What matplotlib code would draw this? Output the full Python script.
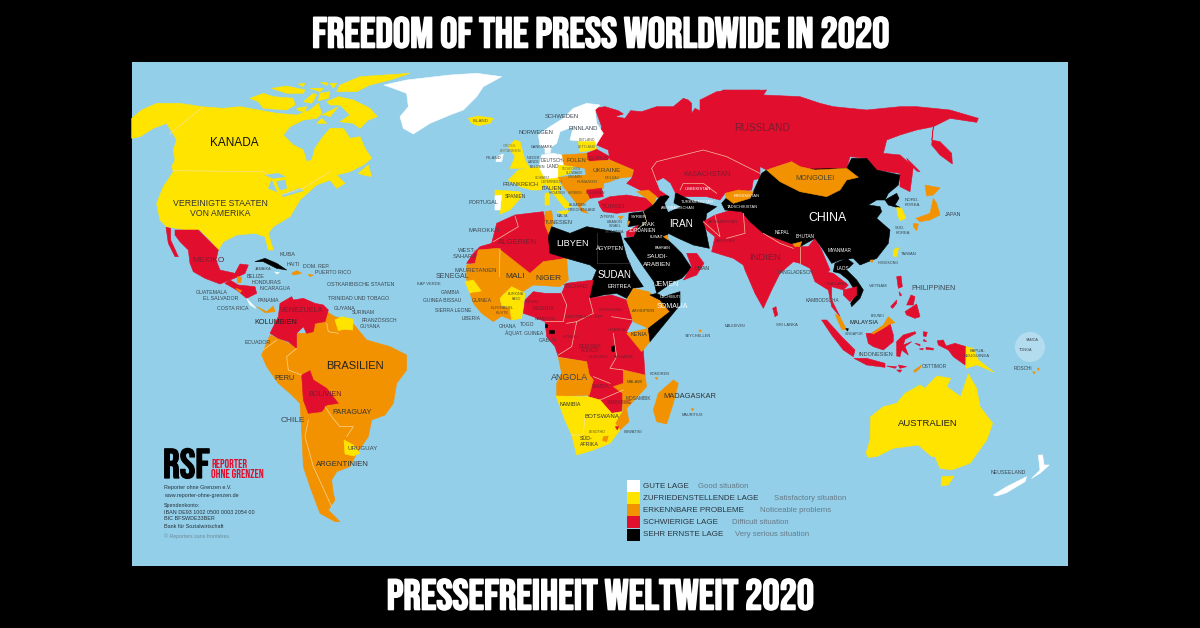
import matplotlib
matplotlib.use('Agg')
from matplotlib import pyplot as plt
from matplotlib import patheffects as pe
from matplotlib.patches import Rectangle, Circle

OCEAN = '#93cfe8'
WHITE = '#ffffff'
YELLOW = '#ffe400'
ORANGE = '#f39200'
RED = '#e20e2e'
BLACK = '#000000'
BORDER = '#f7e3b0'
HEAVY = ['Bebas Neue', 'Anton', 'Liberation Sans']

TITLE_TOP = 'FREEDOM OF THE PRESS WORLDWIDE IN 2020'
TITLE_BOTTOM = 'PRESSEFREIHEIT WELTWEIT 2020'

# outlines read off the zoomed crops, each list is in the coords of its crop
# americas crop (130, 60)
north_america = [(5,175),(35,150),(80,130),(150,130),(215,140),(280,145),(330,140),(385,150),(440,160),(500,165),(540,150),(565,130),(575,160),(560,175),(520,180),(480,200),(460,225),(490,255),(520,270),(530,305),(545,300),(555,265),(575,235),(600,205),(640,205),(660,235),(690,230),(705,265),(725,295),(700,315),(660,335),(620,345),(610,335),(645,370),(620,385),(600,360),(560,375),(510,420),(480,470),(430,500),(415,520),(430,570),(415,570),(405,530),(375,520),(320,525),(280,545),(265,570),(240,540),(210,510),(170,510),(110,500),(90,480),(80,430),(100,380),(130,335),(125,320),(135,300),(130,270),(140,240),(110,190),(70,205),(30,230),(5,235)]
arctic = [
    [(360,115),(400,100),(430,110),(490,115),(495,135),(470,150),(400,145),(385,125)],
    [(425,85),(470,78),(525,90),(520,100),(470,100)],
    [(520,125),(550,100),(560,105),(545,130)],
    [(570,100),(600,95),(595,115),(565,122)],
    [(590,125),(625,110),(670,120),(720,145),(742,170),(715,180),(690,205),(670,190),(630,185),(660,165),(630,135),(600,135)],
    [(630,75),(690,50),(840,40),(780,60),(720,75),(680,95),(620,95)],
    [(570,65),(590,65),(590,75)],
    [(505,72),(525,70),(520,80)],
    [(600,70),(620,70),(610,85)],
    [(540,85),(580,85),(570,95)],
    [(500,145),(530,140),(525,155),(505,152)],
    [(575,165),(625,140),(600,170),(585,165)],
    [(560,190),(575,175),(590,190)],
    [(685,340),(715,315),(725,350),(700,345)],
]
lakes = [
    [(405,345),(445,340),(465,350),(430,355)],
    [(415,385),(425,360),(440,395)],
    [(440,365),(465,360),(470,385),(450,390)],
    [(455,405),(510,385),(520,392),(460,410)],
]
greenland = [(762,75),(830,60),(960,45),(1040,40),(1115,50),(1060,80),(1040,110),(1020,130),(1000,150),(960,165),(900,190),(850,222),(820,205),(810,170),(835,140),(830,100),(790,85)]
iceland = [(1015,175),(1045,168),(1090,175),(1080,190),(1045,197),(1025,190)]
mexico = [(135,510),(170,510),(205,510),(230,535),(265,570),(258,600),(270,630),(315,640),(330,612),(355,615),(345,640),(325,650),(300,660),(270,672),(225,655),(190,635),(180,610),(175,570),(150,545),(135,525)]
baja = [(108,502),(122,505),(122,540),(145,590),(135,590),(115,550)]
honduras = [(300,660),(325,675),(375,680),(380,700),(350,715),(320,690),(285,670)]
belize = [(322,650),(335,652),(332,668),(323,668)]
salvador = [(318,685),(335,692),(330,698)]
costa_rica = [(350,715),(378,745),(360,735)]
panama = [(380,740),(410,755),(430,738),(435,755),(405,758)]
cuba = [(375,605),(405,595),(440,610),(470,630),(440,625),(400,605)]
jamaica = [(435,636),(448,638),(440,642)]
haiti = [(485,640),(500,632),(515,640),(490,645)]
puerto_rico = [(535,643),(550,645),(540,650)]

# south america crop (260, 280)
south_america = [(5,225),(30,165),(110,200),(110,160),(135,160),(165,130),(195,125),(200,95),(225,110),(275,125),(295,150),(320,180),(390,200),(440,225),(440,270),(410,310),(400,370),(375,405),(335,420),(325,470),(290,520),(270,560),(230,575),(215,600),(220,640),(225,660),(205,690),(240,725),(225,725),(180,700),(150,620),(130,560),(125,450),(120,370),(90,340),(55,310),(20,260)]
venezuela = [(30,160),(55,110),(60,70),(95,50),(100,60),(130,55),(165,70),(190,75),(205,90),(195,125),(165,130),(160,155),(140,160),(130,140),(110,160),(110,205),(85,185),(55,175)]
suriname = [(225,120),(245,110),(280,118),(278,150),(250,148),(235,152)]
bolivia = [(125,285),(150,272),(160,300),(200,325),(235,370),(200,375),(185,395),(145,400),(130,360)]
uruguay = [(252,480),(280,495),(300,520),(280,528),(255,522)]

# west russia + kazakhstan crop (560, 90)
russia_west = [(105,55),(135,50),(175,62),(190,72),(165,80),(195,85),(212,62),(245,65),(290,50),(340,50),(370,25),(385,30),(395,40),(395,70),(405,55),(425,65),(430,30),(470,10),(490,0),(600,0),(600,265),(580,270),(575,300),(495,310),(480,330),(440,320),(350,320),(310,325),(285,320),(240,300),(210,285),(200,280),(215,265),(222,240),(150,210),(145,180),(110,165),(125,110)]
caspian = [(290,275),(310,265),(330,280),(345,310),(340,340),(360,350),(325,365),(315,340),(330,320),(300,300)]
borders_kazakhstan = [[(275,235),(290,215),(430,180),(500,200),(600,250)],[(360,300),(370,280),(430,280),(470,310)],[(275,235),(290,275)]]

# europe / middle east crop (430, 90)
nordic = [(325,135),(360,110),(400,85),(430,55),(470,40),(510,45),(495,60),(500,100),(520,130),(495,170),(470,155),(420,150),(430,110),(390,125),(380,160),(350,180),(330,165)]
baltic = [(445,155),(495,155),(500,180),(450,185)]
belarus = [(470,190),(500,178),(540,200),(530,215),(475,215)]
poland = [(395,195),(470,190),(478,225),(465,235),(400,225)]
ukraine = [(470,215),(540,210),(610,240),(605,260),(565,265),(540,275),(520,280),(470,260),(465,240)]
germany = [(335,195),(370,190),(395,195),(400,225),(385,240),(385,270),(340,270),(325,240)]
denmark = [(345,170),(365,168),(360,190),(345,190)]
france = [(265,240),(325,230),(345,270),(335,300),(305,300),(270,290),(235,270)]
britain = [(235,170),(255,150),(270,155),(285,210),(300,235),(240,235),(255,200)]
ireland = [(200,200),(220,192),(215,215),(198,215)]
spain = [(195,300),(270,305),(275,320),(240,360),(210,372),(215,315),(195,318)]
portugal = [(195,318),(215,315),(210,360),(195,360)]
italy = [(350,285),(395,285),(385,305),(425,350),(405,355),(365,305)]
sicily = [(380,365),(420,360),(405,375)]
sardinia = [(345,310),(360,308),(358,345),(345,345)]
czech_hungary = [(385,225),(430,230),(420,250),(385,260)]
austria = [(335,270),(395,262),(385,290),(345,285)]
balkans = [(385,262),(470,255),(520,280),(520,295),(470,300),(480,325),(450,350),(475,370),(455,365),(440,340),(400,290)]
bulgaria = [(470,300),(515,295),(520,320),(480,325)]
turkey = [(505,335),(540,320),(590,315),(650,325),(670,345),(660,360),(600,365),(560,370),(520,365),(510,350)]
georgia = [(620,305),(655,300),(680,320),(670,345),(650,325)]
cyprus = [(565,380),(580,378),(572,388)]
lebanon = [(592,392),(600,395),(592,410)]
israel = [(590,425),(625,405),(610,440),(590,440)]
kuwait = [(700,440),(712,435),(715,450)]
mideast = [(597,370),(640,365),(670,345),(690,320),(740,310),(780,330),(860,350),(830,370),(825,410),(838,475),(790,465),(745,445),(715,430),(708,445),(730,465),(755,490),(785,535),(755,565),(730,575),(680,610),(672,575),(640,530),(600,470),(582,445),(610,440),(625,405),(595,410)]
oman = [(770,490),(800,490),(822,520),(800,555),(760,570),(785,530)]
maghreb = [(110,520),(130,490),(150,470),(185,460),(200,400),(255,375),(340,365),(350,410),(365,440),(360,490),(410,505),(340,515),(300,550),(260,530),(205,475),(145,480),(135,520)]
tunisia = [(345,365),(365,362),(370,400),(355,430),(345,405)]
sahel = [(110,525),(135,520),(145,480),(205,475),(300,550),(340,515),(410,505),(415,570),(390,590),(310,585),(270,610),(265,600),(220,610),(210,630),(160,620),(110,570)]
north_east_africa = [(365,410),(420,430),(470,410),(570,428),(575,445),(590,500),(610,545),(640,590),(610,595),(590,625),(560,610),(520,615),(480,625),(475,600),(500,540),(480,525),(410,505),(360,490),(355,440)]

# africa crop (430, 280)
central_africa = [(280,100),(285,60),(310,35),(345,40),(395,40),(408,10),(490,0),(478,55),(545,45),(590,60),(608,120),(590,155),(640,210),(645,285),(580,270),(580,330),(575,395),(545,400),(510,360),(475,350),(480,320),(490,300),(475,280),(470,245),(385,230),(375,200),(350,170),(345,125),(310,110)]
senegal = [(105,5),(130,0),(155,35),(120,40)]
guinea_coast = [(120,40),(155,35),(210,60),(215,80),(240,85),(245,120),(215,108),(190,125),(155,100),(130,70)]
burkina_ghana = [(210,55),(245,20),(285,40),(275,115),(245,120),(240,85),(215,75)]
angola = [(385,232),(470,245),(478,285),(490,300),(478,345),(380,350),(380,310),(395,280)]
mozambique = [(580,270),(645,285),(650,320),(590,385),(597,425),(570,450),(555,430),(578,395),(578,340),(550,320),(580,310)]
kenya = [(590,160),(655,145),(660,185),(635,215)]
ethiopia = [(590,60),(610,25),(655,35),(690,60),(720,95),(655,145),(610,125)]
somalia = [(660,45),(680,40),(700,50),(750,35),(750,75),(660,185),(655,145),(720,95),(690,60)]
southern_africa = [(378,348),(475,350),(510,360),(545,400),(575,395),(555,430),(570,450),(540,490),(490,510),(440,525),(425,465),(405,420)]
lesotho = [(520,470),(535,468),(530,485),(518,482)]
eswatini = [(556,440),(566,440),(562,450)]
madagascar = [(730,300),(745,310),(730,370),(710,432),(680,425),(670,390),(685,340)]
rwanda = [(545,200),(555,197),(553,215),(545,213)]
eq_guinea = [(357,150),(372,150),(372,160),(357,160)]
sao_tome = [(346,133),(352,133),(352,140),(346,140)]
comoros = [(675,292),(683,292),(681,299)]
mauritius = [(783,386),(791,386),(788,393)]
seychelles = [(806,150),(814,150),(811,157)]

# asia crop (700, 90)
russia = [(0,30),(50,5),(200,0),(190,15),(300,20),(360,40),(400,50),(500,60),(600,50),(650,50),(750,60),(835,85),(830,97),(750,85),(700,110),(650,120),(600,135),(560,150),(550,190),(600,195),(640,230),(630,305),(600,290),(600,250),(530,240),(500,205),(450,200),(440,235),(345,240),(300,230),(275,215),(200,240),(100,190),(40,180),(0,190)]
kamchatka = [(700,110),(695,150),(720,155),(755,190),(757,222),(720,195),(695,165)]
sakhalin = [(620,205),(660,245),(650,243),(625,215)]
china = [(440,235),(455,205),(500,205),(530,240),(600,255),(595,285),(565,310),(555,330),(530,330),(505,345),(540,350),(545,365),(530,385),(570,420),(565,460),(530,505),(480,525),(460,505),(420,510),(395,520),(370,480),(345,445),(300,470),(230,445),(190,430),(150,395),(125,365),(75,360),(65,340),(78,325),(150,325),(160,305),(185,250),(200,240)]
mongolia = [(200,240),(275,215),(300,230),(345,240),(440,235),(475,262),(440,270),(420,300),(380,320),(300,305),(240,275)]
kyrgyzstan = [(75,310),(115,300),(160,305),(150,325),(100,340),(80,325)]
south_asia = [(10,395),(45,375),(95,360),(125,365),(150,395),(190,430),(230,445),(300,470),(325,470),(345,445),(365,480),(390,540),(380,550),(385,600),(345,575),(330,535),(300,520),(280,515),(240,550),(215,600),(190,655),(165,610),(135,540),(130,525),(100,505),(35,485),(45,440),(20,420)]
bhutan = [(278,462),(305,455),(300,470),(285,470)]
sri_lanka = [(218,655),(228,650),(233,675),(225,680)]
indochina = [(405,520),(440,505),(460,520),(440,540),(470,570),(490,600),(480,625),(455,650),(452,640),(470,610),(445,570),(420,550),(400,545)]
thailand = [(375,545),(400,550),(445,585),(430,600),(395,590),(395,630),(420,680),(395,650),(385,600)]
cambodia = [(430,600),(470,590),(470,615),(450,635),(430,615)]
peninsula = [(405,672),(420,680),(440,720),(425,718)]
singapore = [(437,716),(445,716),(443,723)]
hongkong = [(510,510),(520,510),(516,518)]
north_korea = [(555,330),(590,310),(597,325),(585,345),(600,352),(590,352),(565,345)]
south_korea = [(590,352),(605,355),(618,385),(600,392),(593,375)]
honshu = [(648,385),(690,370),(700,325),(710,340),(720,375),(690,390),(660,395)]
hokkaido = [(675,285),(700,290),(720,293),(700,315),(680,318)]
kyushu = [(640,400),(655,402),(650,422),(640,410)]
taiwan = [(582,478),(596,473),(590,500),(580,498)]
philippines = [
    [(590,560),(603,558),(607,590),(595,595)],
    [(597,605),(605,615),(600,618)],
    [(633,615),(645,620),(640,645),(620,645)],
    [(572,650),(590,630),(590,640),(578,655)],
    [(615,665),(650,642),(660,680),(645,685),(620,675)],
]
sumatra = [(365,690),(380,690),(425,740),(465,780),(460,800),(430,780),(395,735)]
java = [(462,805),(500,805),(555,820),(555,832),(500,825)]
sunda = [[(560,828),(590,830),(585,835)],[(595,825),(620,830),(600,835)],[(590,840),(605,840),(600,847)]]
east_timor = [(640,843),(665,825),(660,835),(645,847)]

# oceania crop (840, 300)
kalimantan = [(78,100),(95,100),(130,78),(150,70),(160,105),(160,125),(130,150),(100,140),(85,130)]
sabah = [(95,100),(130,75),(145,50),(165,68),(150,72),(130,85),(100,102)]
sulawesi = [(170,125),(190,105),(225,95),(228,100),(195,118),(190,135),(215,125),(195,140),(205,165),(185,150),(180,170),(170,168)]
moluccas = [[(250,95),(262,97),(258,110),(250,108)],[(252,118),(260,125),(250,123)],[(225,130),(240,133),(240,138)],[(238,147),(250,145),(248,150)],[(258,142),(280,145),(280,150),(258,148)]]
papua = [(292,122),(310,120),(318,138),(345,130),(378,140),(375,195),(340,170),(325,150),(295,135)]
png = [(378,140),(400,145),(415,180),(462,217),(435,205),(410,195),(378,205)]
australia = [(78,460),(90,420),(92,350),(130,320),(170,310),(195,280),(240,255),(255,265),(290,228),(332,235),(320,260),(362,290),(385,222),(410,265),(420,320),(458,370),(440,420),(390,490),(335,510),(300,505),(285,470),(275,470),(235,435),(160,445),(110,470),(85,472)]
tasmania = [(305,530),(342,528),(325,555),(303,558)]
nz_south = [(460,585),(500,560),(560,530),(555,545),(500,578),(470,588)]
nz_north = [(575,535),(600,510),(595,465),(608,465),(612,495),(628,495),(600,520)]
fiji = [[(578,215),(586,216),(582,222)],[(592,204),(598,205),(595,212)]]

# pale country borders
borders_america = [[(218,142),(118,222)],[(130,332),(400,335),(415,345)],[(455,405),(520,385),(600,335)]]
borders_south = [[(145,420),(135,470),(160,560),(215,680)],[(195,380),(215,410),(240,440),(280,440),(260,470)],[(110,205),(80,230),(85,270),(125,285)],[(200,130),(205,155),(235,160)],[(10,210),(50,180)]]
borders_europe = [[(255,378),(265,410),(190,455)],[(210,475),(208,560)],[(640,365),(650,395),(620,420)]]
borders_black = [[(500,430),(500,520)],[(600,520),(500,520)]]
borders_africa = [[(395,40),(410,75),(400,125),(345,125)],[(478,55),(490,100),(440,125),(410,130)],[(440,125),(425,200),(385,225)],[(545,110),(608,120)],[(550,160),(560,230),(540,265),(580,270)],[(490,290),(540,310)],[(510,360),(580,330)],[(465,410),(460,465),(425,465)]]
borders_asia = [[(10,395),(60,440),(45,375)],[(190,430),(240,460),(280,475)],[(300,520),(300,470)],[(130,370),(135,430),(80,445)]]

# legend
legend_colors = [WHITE, YELLOW, ORANGE, RED, BLACK]
legend_de = ['GUTE LAGE', 'ZUFRIEDENSTELLENDE LAGE', 'ERKENNBARE PROBLEME', 'SCHWIERIGE LAGE', 'SEHR ERNSTE LAGE']
legend_en = ['Good situation', 'Satisfactory situation', 'Noticeable problems', 'Difficult situation', 'Very serious situation']
legend_en_x = [698, 774, 760, 732, 735]
legend_y = [486, 498, 510, 522, 535]

# logo block text
imprint = [('Reporter ohne Grenzen e.V.', 488), ('www.reporter-ohne-grenzen.de', 495), ('Spendenkonto:', 505),
           ('IBAN DE93 1002 0500 0003 2054 00', 512), ('BIC BFSWDE33BER', 519), ('Bank für Sozialwirtschaft', 526)]

# (text, x, y, size, colour)
DARK = '#3c4650'
RD = '#7a1d30'
labels = [
    ('KANADA',234,143,8.5,'#111111'),('VEREINIGTE STAATEN',220,204,6.3,'#333333'),('VON AMERIKA',220,213,6.3,'#333333'),
    ('MEXIKO',209,260,6,RD),('KUBA',288,255,4.2,DARK),('HAITI',293,264,3.8,DARK),('JAMAIKA',263,269,2.8,DARK),
    ('DOM. REP.',316,267,3.8,DARK),('PUERTO RICO',333,273,3.8,DARK),('OSTKARIBISCHE STAATEN',361,285,3.8,DARK),
    ('BELIZE',256,277,3.8,DARK),('HONDURAS',267,283,3.8,DARK),('NICARAGUA',275,289,3.8,DARK),('GUATEMALA',212,292,3.8,DARK),
    ('EL SALVADOR',221,299,3.8,DARK),('COSTA RICA',233,308,3.8,DARK),('PANAMA',268,300,3.8,DARK),
    ('TRINIDAD UND TOBAGO',359,299,3.8,DARK),('VENEZUELA',302,310,5.2,RD),('GUYANA',345,308,3.8,DARK),('SURINAM',363,313,3.6,DARK),
    ('FRANZÖSISCH',379,321,3.6,DARK),('GUYANA',370,326,3.6,DARK),('KOLUMBIEN',276,323,5.2,'#222222'),('ECUADOR',258,342,3.8,DARK),
    ('BRASILIEN',355,366,8,'#222222'),('PERU',284,379,5.2,'#333333'),('BOLIVIEN',325,395,5.2,RD),('PARAGUAY',352,413,5.2,'#333333'),
    ('CHILE',293,420,6,DARK),('URUGUAY',363,449,4.4,DARK),('ARGENTINIEN',342,464,5.6,'#333333'),
    ('MAROKKO',484,230,4.4,DARK),('WEST-',467,250,4.2,DARK),('SAHARA',465,256,4.2,DARK),('MAURETANIEN',476,270,4.2,DARK),
    ('SENEGAL',452,277,5,DARK),('KAP VERDE',429,284,3,DARK),('GAMBIA',450,292,3.6,DARK),('GUINEA BISSAU',442,300,3.6,DARK),
    ('GUINEA',482,300,3.8,'#444444'),('SIERRA LEONE',453,311,3.6,DARK),('LIBERIA',471,318,3.6,DARK),('MALI',515,277,6,'#333333'),
    ('ALGERIEN',517,243,5.6,RD),('ISLAND',481,121,3.2,'#555533'),('IRLAND',494,158,3.1,DARK),('GROSS-',510,146,2.6,'#777755'),('BRITANNIEN',510,151,2.6,'#777755'),
    ('SCHWEDEN',562,117,4.2,DARK),('FINNLAND',583,128,4.2,DARK),('NORWEGEN',536,132,4.2,DARK),('ESTLAND',587,140,2.6,'#666644'),
    ('LETTLAND',587,147,2.6,'#666644'),('DÄNEMARK',542,147,2.8,DARK),('POLEN',576,161,4.2,'#444433'),('BELARUS',598,158,3.4,RD),
    ('DEUTSCH-',553,161,3.3,'#444444'),('LAND',553,166,3.3,'#444444'),('NIEDER-',534,158,2.6,DARK),('LANDE',534,162,2.6,DARK),('BELGIEN',537,167,2.6,DARK),
    ('UKRAINE',607,170,4.6,'#444433'),('FRANKREICH',521,185,4,'#444433'),('SPANIEN',515,196,3.6,'#444433'),('PORTUGAL',483,203,4,DARK),
    ('ITALIEN',552,189,4,'#333333'),('RUMÄNIEN',587,182,2.8,'#555533'),('MOLDAU',612,178,2.6,'#555533'),('TÜRKEI',614,206,4.6,RD),
    ('TSCHECHIEN',572,169,2.2,'#666644'),('SLOWAKEI',575,173,2.4,'#555533'),('UNGARN',575,177,2.4,'#555533'),('SCHWEIZ',542,178,2.4,'#555533'),('ÖSTERREICH',552,182,2.4,'#555533'),
    ('BULGARIEN',595,193,2.4,RD),('SERBIEN',575,193,2.4,'#555533'),('KROATIEN',557,193,2.4,'#555533'),('ALBANIEN',577,205,2.4,DARK),
    ('TUNESIEN',559,222,4,DARK),('GRIECHENLAND',582,210,2.6,DARK),('MALTA',562,216,2.6,DARK),('ZYPERN',607,217,2.6,DARK),
    ('LIBANON',615,222,2.6,DARK),('ISRAEL',615,226,2.6,DARK),('PALÄSTINA',614,232,2.6,DARK),
    ('SYRIEN',639,217,3.2,WHITE),('IRAK',648,225,4.2,WHITE),('JORDANIEN',643,231,3.4,WHITE),('KUWAIT',657,237,2.6,WHITE),('IRAN',681,224,7.2,WHITE),
    ('LIBYEN',573,244,6.6,WHITE),('ÄGYPTEN',610,248,4.2,WHITE),('SAUDI-',657,257,4.6,WHITE),('ARABIEN',657,264,4.6,WHITE),
    ('SUDAN',615,275,7,WHITE),('ERITREA',619,286,4,WHITE),('JEMEN',667,284,5,WHITE),('OMAN',702,268,3.6,'#333333'),('BAHRAIN',663,248,2.6,WHITE),
    ('DSCHIBUTI',670,297,2.8,WHITE),('SOMALIA',672,306,5,WHITE),('NIGER',548,278,6,'#333333'),('TSCHAD',575,287,4.4,RD),
    ('TURKMENISTAN',697,202,3,WHITE),('ASERBAIDSCHAN',678,208,2.8,WHITE),('USBEKISTAN',698,189,3,WHITE),('KASACHSTAN',707,175,5,RD),
    ('KIRGISISTAN',747,196,3,WHITE),('TADSCHIKISTAN',742,207,2.8,WHITE),('AFGHANISTAN',723,222,3.2,RD),('PAKISTAN',725,241,3.2,RD),
    ('RUSSLAND',762,128,7.4,RD),('MONGOLEI',815,179,5.2,'#444433'),('CHINA',827,218,8.8,WHITE),('NEPAL',782,233,3.4,WHITE),('BHUTAN',805,236,3.4,WHITE),
    ('INDIEN',765,257,6.8,RD),('MYANMAR',840,251,3.4,WHITE),('NORD-',912,200,3.2,DARK),('KOREA',912,205,3.2,DARK),('SÜD-',900,228,3,DARK),('KOREA',903,233,3,DARK),
    ('JAPAN',953,214,3.8,DARK),('TAIWAN',909,254,3,DARK),('HONGKONG',888,263,2.6,DARK),('BANGLADESCH',795,273,3.4,DARK),('LAOS',843,269,3.4,WHITE),
    ('VIETNAM',878,286,3,DARK),('THAILAND',837,284,3.2,RD),('PHILIPPINEN',934,289,5,DARK),('KAMBODSCHA',822,300,3.4,DARK),('SRI LANKA',787,325,3,DARK),
    ('MALEDIVEN',735,326,2.6,DARK),('SEYCHELLEN',698,336,2.8,DARK),('MALAYSIA',864,322,4.2,'#222222'),('BRUNEI',878,316,2.6,DARK),('SINGAPUR',854,334,2.6,DARK),
    ('INDONESIEN',876,354,4,DARK),('OSTTIMOR',934,366,3.4,DARK),('PAPUA-',978,351,3.2,'#444444'),('NEUGUINEA',977,356,3.2,DARK),
    ('SAMOA',1032,340,2.6,DARK),('TONGA',1026,350,2.8,DARK),('FIDSCHI',1023,369,3.4,DARK),('NEUSEELAND',1008,472,3.8,DARK),('AUSTRALIEN',928,423,6.8,'#222222'),
    ('GHANA',508,326,3.6,DARK),('TOGO',527,324,3.6,DARK),('ÄQUAT. GUINEA',524,333,3.6,DARK),('GABUN',548,341,3.8,DARK),('BURKINA',516,294,2.6,'#555533'),('FASO',516,299,2.6,'#555533'),
    ('ELFENBEIN-',502,308,2.8,'#664422'),('KÜSTE',502,313,2.8,'#664422'),('NIGERIA',543,308,3.8,RD),('BENIN',532,302,3,RD),('KAMERUN',545,319,3,RD),
    ('ZENTRALAFR. REP.',584,317,3,RD),('SÜDSUDAN',611,310,3,RD),('ÄTHIOPIEN',644,311,3.2,'#444422'),('KENIA',639,334,4,'#333333'),('UGANDA',617,330,3,RD),
    ('KONGO',570,337,3,RD),('DEM.REP.',590,346,3.6,RD),('KONGO',590,351,3.6,RD),('BURUNDI',598,357,3,RD),('TANSANIA',623,357,3,RD),('ANGOLA',570,378,6.4,DARK),
    ('SAMBIA',601,387,3.4,RD),('MALAWI',635,382,3,'#444422'),('MOSAMBIK',638,398,3.4,DARK),('SIMBABWE',619,403,3.4,RD),('KOMOREN',660,374,2.8,DARK),
    ('MADAGASKAR',690,397,5.4,'#333333'),('MAURITIUS',692,415,2.8,DARK),('NAMIBIA',570,405,3.8,'#333333'),('BOTSWANA',602,417,4.4,'#333333'),
    ('LESOTHO',597,432,2.6,'#555533'),('ESWATINI',633,432,2.8,DARK),('SÜD-',586,439,3.8,'#333333'),('AFRIKA',589,445,3.8,'#333333'),
]

fig = plt.figure(figsize=(12, 6.28), dpi=100, facecolor=BLACK)
ax = fig.add_axes([0, 0, 1, 1])
ax.set_xlim(0, 1200)
ax.set_ylim(628, 0)
ax.axis('off')
plt.rcParams['font.family'] = ['Liberation Sans', 'DejaVu Sans']

ax.add_patch(Rectangle((132, 62), 936, 504, fc=OCEAN, ec='none', zorder=0))


def land(pts, color, crop, z=1):
    xs = [crop[0] + p[0] / 3 for p in pts]
    ys = [crop[1] + p[1] / 3 for p in pts]
    ax.fill(xs, ys, fc=color, ec=color, lw=0.4, joinstyle='round', zorder=z)


def lines(parts, crop, color=BORDER, z=4):
    for pts in parts:
        xs = [crop[0] + p[0] / 3 for p in pts]
        ys = [crop[1] + p[1] / 3 for p in pts]
        ax.plot(xs, ys, color=color, lw=0.5, alpha=0.85, zorder=z)


AM = (130, 60)
SA = (260, 280)
RU = (560, 90)
EU = (430, 90)
AF = (430, 280)
AS = (700, 90)
OC = (840, 300)

land(north_america, YELLOW, AM)
for a in arctic:
    land(a, YELLOW, AM)
for a in lakes:
    land(a, OCEAN, AM, 2)
land(greenland, WHITE, AM)
land(iceland, YELLOW, AM)
for s, c in [(mexico, RED), (baja, RED), (honduras, RED), (belize, ORANGE), (salvador, ORANGE), (costa_rica, WHITE),
             (panama, ORANGE), (cuba, BLACK), (jamaica, WHITE), (haiti, ORANGE), (puerto_rico, ORANGE)]:
    land(s, c, AM, 2)

land(south_america, ORANGE, SA)
for s, c in [(venezuela, RED), (suriname, YELLOW), (bolivia, RED), (uruguay, YELLOW)]:
    land(s, c, SA, 2)

land(russia_west, RED, RU)
land(russia, RED, AS)
land(kamchatka, RED, AS)
land(sakhalin, RED, AS)
for s, c in [(nordic, WHITE), (baltic, YELLOW), (belarus, RED), (poland, ORANGE), (ukraine, ORANGE), (germany, WHITE),
             (denmark, WHITE), (france, YELLOW), (britain, YELLOW), (ireland, WHITE), (spain, YELLOW), (portugal, WHITE),
             (italy, YELLOW), (sicily, YELLOW), (sardinia, YELLOW), (czech_hungary, YELLOW), (austria, YELLOW), (balkans, ORANGE),
             (bulgaria, RED), (turkey, RED), (georgia, ORANGE), (cyprus, ORANGE), (maghreb, RED), (tunisia, ORANGE),
             (sahel, ORANGE), (north_east_africa, BLACK), (mideast, BLACK), (oman, RED), (lebanon, ORANGE), (israel, RED), (kuwait, ORANGE)]:
    land(s, c, EU, 2)
land(caspian, OCEAN, RU, 3)

for s, c in [(central_africa, RED), (senegal, YELLOW), (guinea_coast, ORANGE), (burkina_ghana, YELLOW), (angola, ORANGE), (mozambique, ORANGE),
             (kenya, ORANGE), (ethiopia, ORANGE), (somalia, BLACK), (southern_africa, YELLOW), (lesotho, ORANGE), (eswatini, RED),
             (madagascar, ORANGE), (rwanda, BLACK), (eq_guinea, BLACK), (sao_tome, BLACK), (comoros, ORANGE), (mauritius, ORANGE), (seychelles, ORANGE)]:
    land(s, c, AF, 2)

land(south_asia, RED, AS, 2)
for s, c in [(china, BLACK), (mongolia, ORANGE), (kyrgyzstan, ORANGE), (bhutan, ORANGE), (sri_lanka, RED), (indochina, BLACK), (thailand, RED),
             (cambodia, RED), (peninsula, ORANGE), (singapore, BLACK), (hongkong, ORANGE), (north_korea, BLACK), (south_korea, YELLOW),
             (honshu, ORANGE), (hokkaido, ORANGE), (kyushu, ORANGE), (taiwan, YELLOW), (sumatra, RED), (java, RED), (east_timor, ORANGE)]:
    land(s, c, AS, 3)
for a in philippines + sunda:
    land(a, RED, AS, 3)

for s, c in [(kalimantan, RED), (sabah, ORANGE), (sulawesi, RED), (papua, RED), (png, YELLOW), (australia, YELLOW), (tasmania, YELLOW),
             (nz_south, WHITE), (nz_north, WHITE)]:
    land(s, c, OC, 3)
for a in moluccas:
    land(a, RED, OC, 3)
for a in fiji:
    land(a, ORANGE, OC, 3)

lines(borders_america, AM)
lines(borders_south, SA)
lines(borders_kazakhstan, RU, z=2)
lines(borders_europe, EU)
lines(borders_black, EU, color='#444444')
lines(borders_africa, AF)
lines(borders_asia, AS)

ax.add_patch(Circle((1030, 347), 15, fc=WHITE, ec='none', alpha=0.3, zorder=3))

for t, x, y, s, c in labels:
    ax.text(x, y, t, fontsize=s, color=c, ha='center', va='center', zorder=5)

# legend
for c, y in zip(legend_colors, legend_y):
    ax.add_patch(Rectangle((627, y - 6), 13, 12, fc=c, ec='none', zorder=4))
for de, en, ex, y in zip(legend_de, legend_en, legend_en_x, legend_y):
    ax.text(643, y, de, fontsize=5.8, color='#2a3540', va='center', zorder=5)
    ax.text(ex, y, en, fontsize=5.6, color='#667a88', va='center', zorder=5)

# logo
thick = [pe.withStroke(linewidth=0.9, foreground=BLACK)]
ax.text(163, 463, 'RSF', fontsize=30, color=BLACK, va='center', zorder=5, family=HEAVY, path_effects=thick)
ax.text(211, 464, 'REPORTER', fontsize=8.4, color=RED, va='center', zorder=5, family=HEAVY)
ax.text(211, 473, 'OHNE GRENZEN', fontsize=8.4, color=RED, va='center', zorder=5, family=HEAVY)
for t, y in imprint:
    ax.text(164, y, t, fontsize=3.9, color='#26323c', va='center', zorder=5)
ax.text(164, 536, '© Reporters sans frontières', fontsize=3.8, color='#6f8a9a', va='center', zorder=5)

# titles, the font has no bold so thicken with a stroke
thick = [pe.withStroke(linewidth=1.2, foreground=WHITE)]
ax.text(600, 32, TITLE_TOP, fontsize=31, color=WHITE, ha='center', va='center', family=HEAVY, path_effects=thick)
ax.text(600, 594, TITLE_BOTTOM, fontsize=31, color=WHITE, ha='center', va='center', family=HEAVY, path_effects=thick)

fig.savefig('out.png', dpi=100, facecolor=BLACK)
